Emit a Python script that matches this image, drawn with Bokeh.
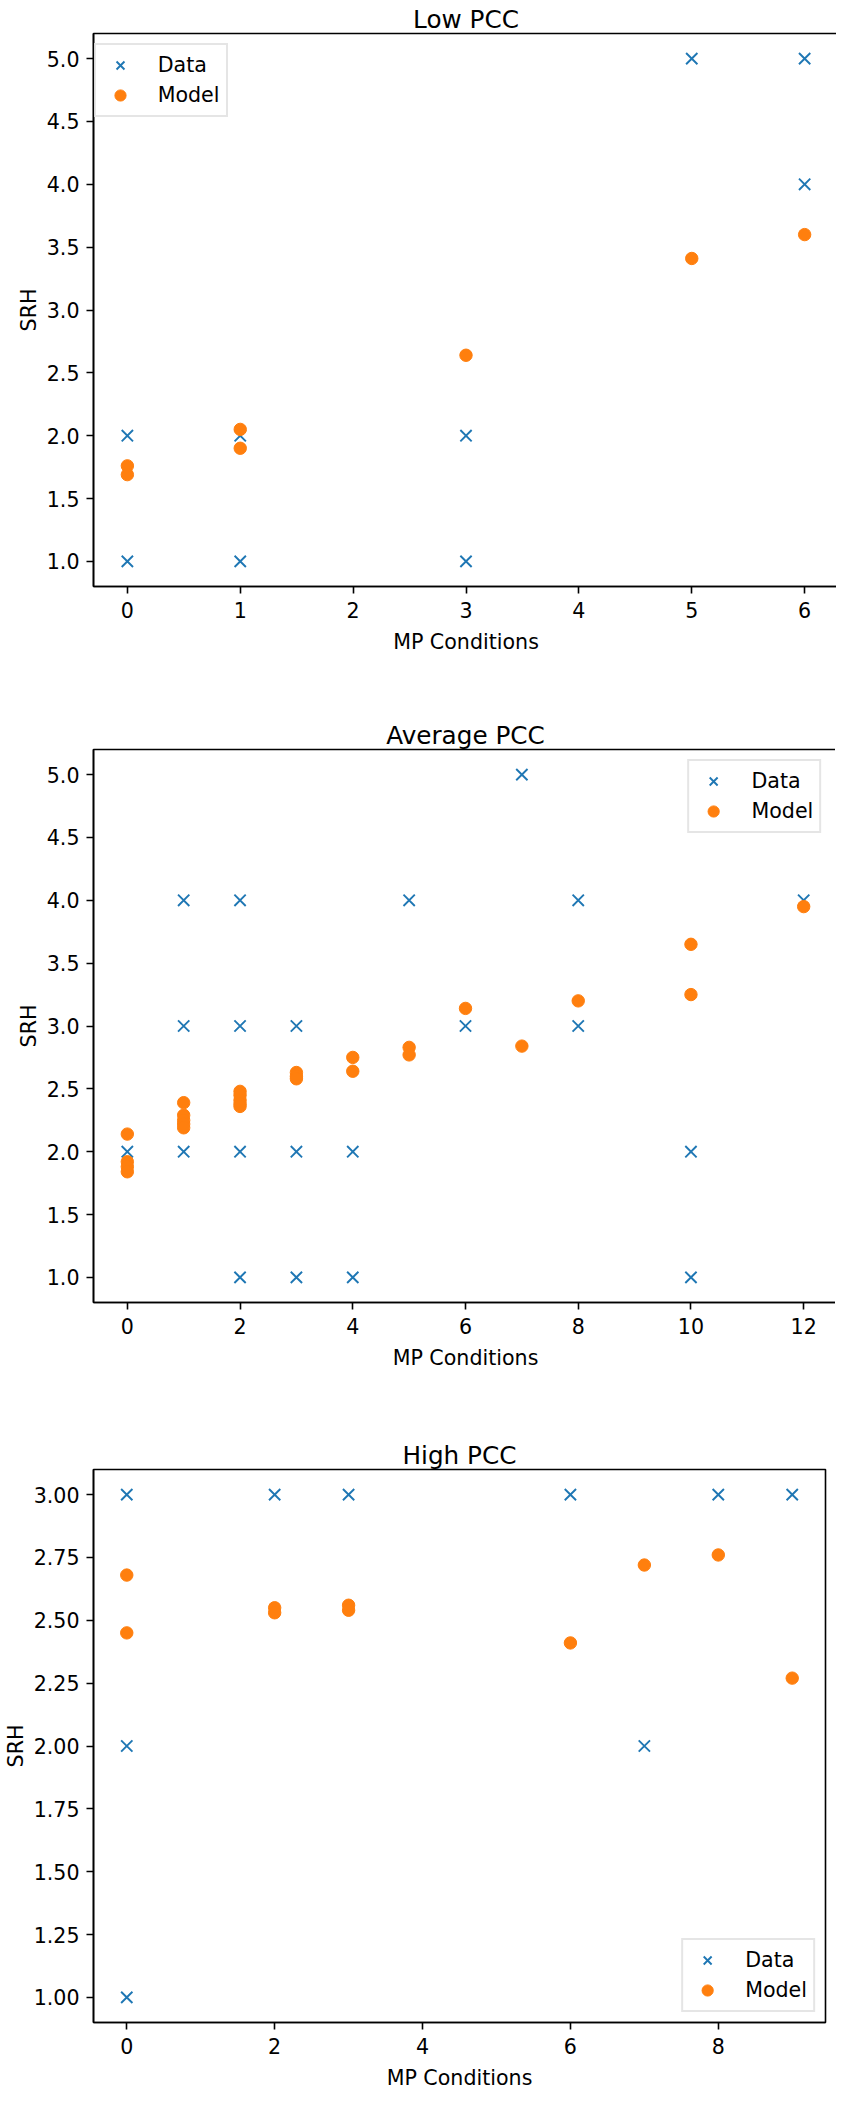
from bokeh.plotting import figure
from bokeh.layouts import column
from bokeh.models import FixedTicker, Range1d, PrintfTickFormatter
from bokeh.embed import file_html
from bokeh.resources import INLINE

# ---------------- data ----------------
titles = ["Low PCC", "Average PCC", "High PCC"]

low_data_x = [0, 0, 1, 1, 3, 3, 5, 6, 6]
low_data_y = [2, 1, 2, 1, 2, 1, 5, 5, 4]
low_model_x = [0, 0, 1, 1, 3, 5, 6]
low_model_y = [1.76, 1.69, 2.05, 1.90, 2.64, 3.41, 3.60]

avg_data_x = [0, 1, 1, 1, 2, 2, 2, 2, 3, 3, 3, 4, 4, 5, 6, 7, 8, 8, 10, 10, 12]
avg_data_y = [2, 4, 3, 2, 4, 3, 2, 1, 3, 2, 1, 2, 1, 4, 3, 5, 4, 3, 2, 1, 4]
avg_model_x = [0, 0, 0, 0, 1, 1, 1, 1, 1, 2, 2, 2, 2, 2, 3, 3, 3, 4, 4, 5, 5, 6, 7, 8, 10, 10, 12]
avg_model_y = [2.14, 1.92, 1.88, 1.84, 2.39, 2.29, 2.25, 2.22, 2.19,
               2.48, 2.45, 2.41, 2.38, 2.36, 2.63, 2.60, 2.58, 2.75, 2.64,
               2.83, 2.77, 3.14, 2.84, 3.20, 3.65, 3.25, 3.95]

high_data_x = [0, 0, 0, 2, 3, 6, 7, 8, 9]
high_data_y = [3, 2, 1, 3, 3, 3, 2, 3, 3]
high_model_x = [0, 0, 2, 2, 3, 3, 6, 7, 8, 9]
high_model_y = [2.68, 2.45, 2.55, 2.53, 2.56, 2.54, 2.41, 2.72, 2.76, 2.27]

low_xticks = [0, 1, 2, 3, 4, 5, 6]
avg_xticks = [0, 2, 4, 6, 8, 10, 12]
high_xticks = [0, 2, 4, 6, 8]
low_yticks = [1.0, 1.5, 2.0, 2.5, 3.0, 3.5, 4.0, 4.5, 5.0]
avg_yticks = [1.0, 1.5, 2.0, 2.5, 3.0, 3.5, 4.0, 4.5, 5.0]
high_yticks = [1.0, 1.25, 1.5, 1.75, 2.0, 2.25, 2.5, 2.75, 3.0]

BLUE = "#1f77b4"
ORANGE = "#ff7f0e"
FONT = "DejaVu Sans"
FS = "20.6px"


def make_panel(title, dx, dy, mx, my, xr, yr, xticks, yticks, yfmt,
               legend_loc, left, frame_w, top, bottom):
    p = figure(title=title, frame_width=frame_w, frame_height=553,
               x_range=Range1d(*xr), y_range=Range1d(*yr),
               output_backend="svg", toolbar_location=None,
               min_border_left=left, min_border_right=11,
               min_border_top=top, min_border_bottom=bottom,
               background_fill_color="white", border_fill_color="white")
    p.title.text_font = FONT
    p.title.text_font_size = "24.7px"
    p.title.text_font_style = "normal"
    p.title.text_color = "black"
    p.title.align = "center"
    p.title.standoff = 0
    p.xgrid.visible = False
    p.ygrid.visible = False
    p.outline_line_color = "black"
    p.outline_line_width = 1.6
    p.outline_line_alpha = 1.0

    for ax in (p.xaxis[0], p.yaxis[0]):
        ax.axis_line_color = "black"
        ax.axis_line_width = 1.6
        ax.major_tick_line_color = "black"
        ax.major_tick_line_width = 1.6
        ax.major_tick_out = 7
        ax.major_tick_in = 0
        ax.minor_tick_out = 0
        ax.minor_tick_in = 0
        ax.major_label_text_font = FONT
        ax.major_label_text_font_size = FS
        ax.major_label_text_color = "black"
        ax.major_label_standoff = 7
        ax.axis_label_text_font = FONT
        ax.axis_label_text_font_size = FS
        ax.axis_label_text_font_style = "normal"
        ax.axis_label_text_color = "black"

    p.xaxis.axis_label = "MP Conditions"
    p.xaxis.major_label_standoff = 8
    p.xaxis.axis_label_standoff = 9
    p.yaxis.axis_label = "SRH"
    p.yaxis.axis_label_standoff = 3
    p.xaxis.ticker = FixedTicker(ticks=xticks)
    p.yaxis.ticker = FixedTicker(ticks=yticks)
    p.xaxis.formatter = PrintfTickFormatter(format="%d")
    p.yaxis.formatter = PrintfTickFormatter(format=yfmt)

    p.scatter(dx, dy, marker="x", size=16, line_color=BLUE, line_width=1.9,
              legend_label="Data")
    p.scatter(mx, my, marker="circle", size=12.4, fill_color=ORANGE,
              line_color=ORANGE, line_width=1, legend_label="Model")

    lg = p.legend[0]
    lg.location = legend_loc
    lg.margin = 10
    lg.border_line_color = "#cccccc"
    lg.border_line_width = 2
    lg.background_fill_color = "white"
    lg.background_fill_alpha = 0.8
    lg.label_text_font = FONT
    lg.label_text_font_size = FS
    lg.label_text_color = "black"
    lg.glyph_width = 36
    lg.glyph_height = 28
    lg.label_height = 24
    lg.padding = 6
    lg.spacing = 2
    lg.label_standoff = 20
    return p


p1 = make_panel(titles[0], low_data_x, low_data_y, low_model_x, low_model_y,
                (-0.3, 6.3), (0.8, 5.2), low_xticks, low_yticks, "%.1f",
                "top_left", 78, 745, 33, 130)
p2 = make_panel(titles[1], avg_data_x, avg_data_y, avg_model_x, avg_model_y,
                (-0.6, 12.6), (0.8, 5.2), avg_xticks, avg_yticks, "%.1f",
                "top_right", 79, 744, 33, 134)
p3 = make_panel(titles[2], high_data_x, high_data_y, high_model_x, high_model_y,
                (-0.45, 9.45), (0.9, 3.1), high_xticks, high_yticks, "%.2f",
                "bottom_right", 91, 732, 33, 60)

layout = column(p1, p2, p3, spacing=0)
open("out.html", "w").write(file_html(layout, INLINE))
